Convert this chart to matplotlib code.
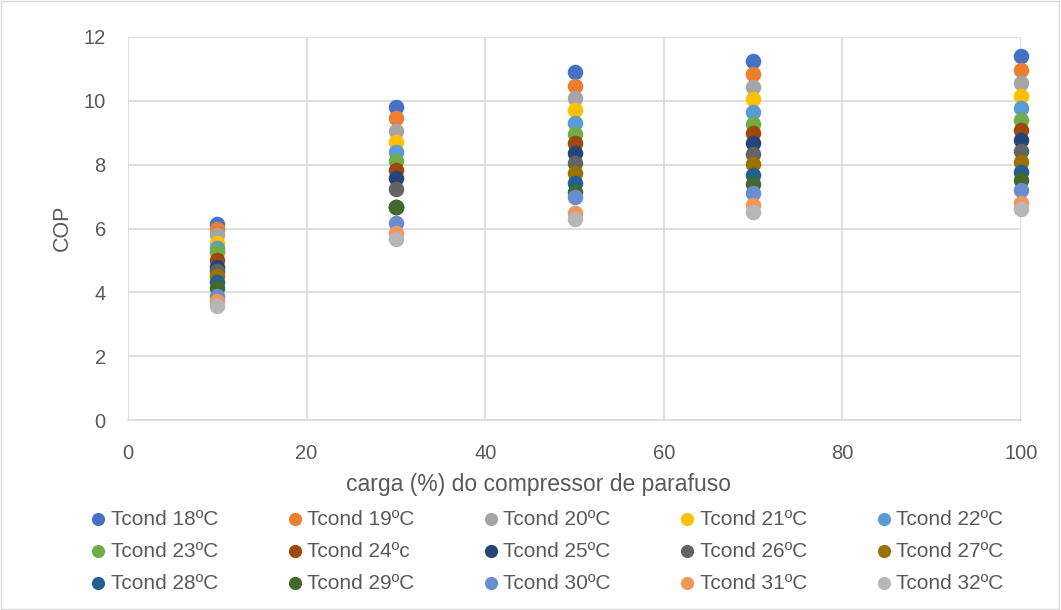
import matplotlib.pyplot as plt
from matplotlib.patches import Rectangle

plt.rcParams['font.family'] = ['Liberation Sans', 'DejaVu Sans']

# carga do compressor (%)
carga = [10, 30, 50, 70, 100]

series_names = ['Tcond 18ºC', 'Tcond 19ºC', 'Tcond 20ºC', 'Tcond 21ºC', 'Tcond 22ºC',
                'Tcond 23ºC', 'Tcond 24ºc', 'Tcond 25ºC', 'Tcond 26ºC', 'Tcond 27ºC',
                'Tcond 28ºC', 'Tcond 29ºC', 'Tcond 30ºC', 'Tcond 31ºC', 'Tcond 32ºC']

cop_18 = [6.15, 9.80, 10.90, 11.25, 11.41]
cop_19 = [6.00, 9.45, 10.47, 10.85, 10.97]
cop_20 = [5.80, 9.07, 10.10, 10.44, 10.56]
cop_21 = [5.55, 8.72, 9.72, 10.06, 10.16]
cop_22 = [5.40, 8.40, 9.30, 9.66, 9.78]
cop_23 = [5.25, 8.10, 8.97, 9.28, 9.40]
cop_24 = [5.00, 7.83, 8.68, 9.00, 9.09]
cop_25 = [4.80, 7.58, 8.37, 8.68, 8.78]
cop_26 = [4.67, 7.24, 8.05, 8.34, 8.43]
cop_27 = [4.50, 6.66, 7.74, 8.02, 8.09]
cop_28 = [4.33, 6.66, 7.43, 7.68, 7.77]
cop_29 = [4.13, 6.66, 7.15, 7.40, 7.52]
cop_30 = [3.90, 6.17, 7.00, 7.12, 7.21]
cop_31 = [3.72, 5.86, 6.48, 6.75, 6.81]
cop_32 = [3.57, 5.67, 6.30, 6.52, 6.61]

all_cop = [cop_18, cop_19, cop_20, cop_21, cop_22, cop_23, cop_24, cop_25,
           cop_26, cop_27, cop_28, cop_29, cop_30, cop_31, cop_32]

colors = ['#4472C4', '#ED7D31', '#A5A5A5', '#FFC000', '#5B9BD5',
          '#70AD47', '#9E480E', '#264478', '#636363', '#997300',
          '#255E91', '#43682B', '#698ED0', '#F1975A', '#B7B7B7']

txt = '#595959'
grid = '#D9D9D9'

fig = plt.figure(figsize=(10.61, 6.10), dpi=100)
ax = fig.add_axes([128 / 1061, 1 - 420 / 610, (1021 - 128) / 1061, (420 - 37) / 610])

handles = []
for name, vals, c in zip(series_names, all_cop, colors):
    h = ax.scatter(carga, vals, s=125, color=c, label=name, zorder=3,
                   linewidths=0, clip_on=False)
    handles.append(h)

ax.set_xlim(0, 100)
ax.set_ylim(0, 12)
ax.set_xticks(range(0, 101, 20))
ax.set_yticks(range(0, 13, 2))
ax.grid(True, color=grid, linewidth=1.2)
ax.set_axisbelow(True)
for side in ['top', 'right', 'left']:
    ax.spines[side].set_visible(False)
ax.spines['bottom'].set_color(grid)
ax.spines['bottom'].set_linewidth(1.2)
ax.tick_params(length=0, labelsize=14.5, colors=txt)
ax.tick_params(axis='x', pad=17)
ax.tick_params(axis='y', pad=16)

fig.text(539 / 1061, 1 - 485 / 610, 'carga (%) do compressor de parafuso',
         ha='center', va='center', fontsize=16.5, color=txt)
fig.text(62 / 1061, 1 - 228 / 610, 'COP', rotation=90,
         ha='center', va='center', fontsize=15.5, color=txt)

# legenda preenchida por linhas (5 colunas)
ncol = 5
nrow = 3
leg_handles = [handles[r * ncol + c] for c in range(ncol) for r in range(nrow)]
leg = fig.legend(handles=leg_handles, ncol=ncol, loc='upper left',
                 bbox_to_anchor=(68 / 1061, 1 - 491 / 610),
                 frameon=False, fontsize=15, labelcolor=txt,
                 handletextpad=0.05, columnspacing=3.12, labelspacing=0.62,
                 markerscale=0.85, scatterpoints=1, handlelength=1.1)

# moldura da figura
fig.patches.append(Rectangle((0.001, 0.001), 0.997, 0.997, transform=fig.transFigure,
                             fill=False, edgecolor=grid, linewidth=1))

fig.savefig('out.png', dpi=100)
